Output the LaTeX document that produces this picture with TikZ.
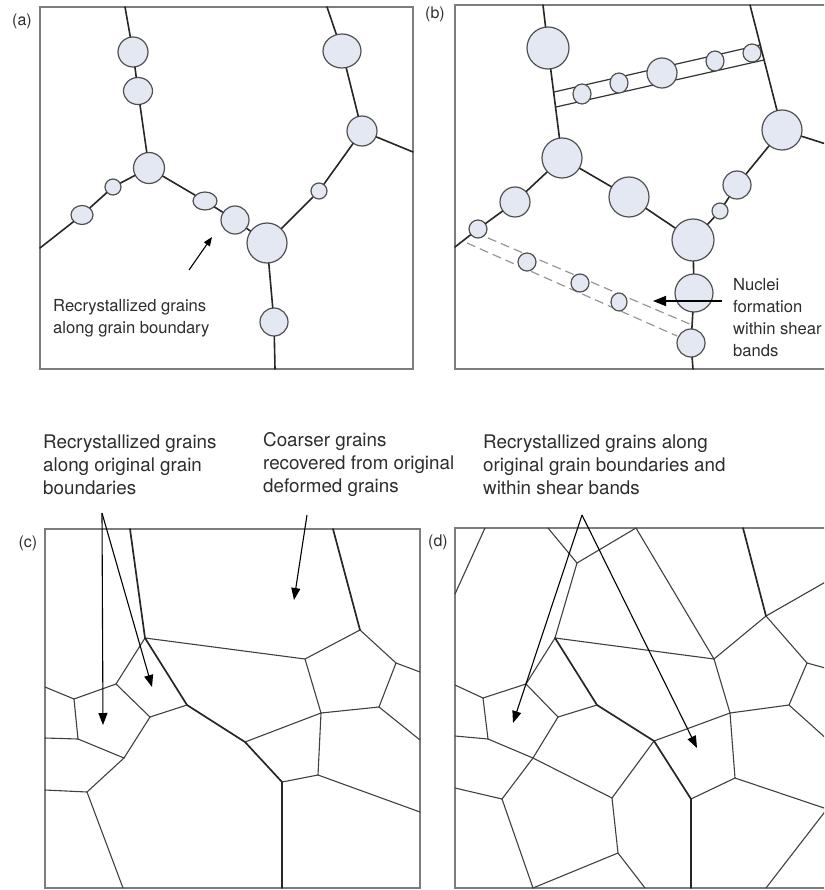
\documentclass[tikz,border=0pt]{standalone}
\usepackage{fontspec}
\setmainfont{TeX Gyre Heros}
\usepackage{tikz}
\usetikzlibrary{
    shapes.geometric, arrows.meta, positioning
}
\definecolor{colGrain}{RGB}{228, 232, 242}
\definecolor{colRim}{RGB}{80, 80, 80}
\definecolor{colFrame}{RGB}{125, 125, 125}
\definecolor{colBand}{RGB}{150, 150, 150}
\definecolor{colText}{RGB}{45, 45, 45}

\begin{document}
\begin{tikzpicture}[x=1pt, y=-1pt,
    every node/.style={text=colText},
    grain/.style={ellipse, draw=colRim, fill=colGrain, line width=1.2pt, inner sep=0pt},
    gb/.style={line width=1.6pt, black!85, line cap=round},
    cgb/.style={line width=1.1pt, black!75, line cap=round},
    cgbthick/.style={line width=1.7pt, black!85, line cap=round},
    panel/.style={draw=colFrame, line width=1.3pt},
    bandline/.style={line width=1.2pt, black!80},
    shearline/.style={line width=1.2pt, colBand, dash pattern=on 9pt off 5pt},
    ptr/.style={line width=1.1pt, -{Triangle[length=12pt, width=9pt]}},
    lbl/.style={align=left, inner sep=0pt, font=\fontsize{18.8}{23}\selectfont},
    note/.style={align=left, inner sep=0pt, font=\fontsize{16.6}{22}\selectfont},
    tag/.style={inner sep=0pt, font=\fontsize{16}{18}\selectfont}
]
    \useasboundingbox (0,0) rectangle (824,890);
    \clip (0,0) rectangle (824,890);

    % (a) grains along the old boundaries
    \draw[panel] (40,7) rectangle (413,369);
    \node[tag] (a-tag) at (22,21) {(a)};
    \foreach \n/\x/\y/\w/\h in {a1/133/52/30/30, a2/138/91/29/27, a3/149/168/31/31,
        a4/113/187/16/16, a5/82/215/22/19, a6/205/201/24/18, a7/235/220/28/28,
        a8/267/243/40/40, a9/274/322/28/28, a10/319/191/16/16, a11/362/131/30/30,
        a12/342/51/38/34}
        \node[grain, minimum width=\w pt, minimum height=\h pt] (\n) at (\x,\y) {};
    \coordinate (a-t1) at (125,7);
    \coordinate (a-t2) at (327,7);
    \coordinate (a-l) at (40,248);
    \coordinate (a-b) at (275,369);
    \coordinate (a-r) at (413,152);
    \draw[gb] (a-t1) -- (a1) -- (a2) -- (a3);
    \draw[gb] (a3) -- (a4) -- (a5) -- (a-l);
    \draw[gb] (a3) -- (a6) -- (a7) -- (a8) -- (a9) -- (a-b);
    \draw[gb] (a8) -- (a10) -- (a11) -- (a12) -- (a-t2);
    \draw[gb] (a11) -- (a-r);
    \coordinate (a-tail) at (189,270);
    \coordinate (a-tip) at (212,237);
    \draw[line width=1.1pt, -{Triangle[length=9pt, width=7pt]}] (a-tail) -- (a-tip);
    \node[note, anchor=west] (a-text) at (53,318) {Recrystallized grains\\along grain boundary};

    % (b) grains along boundaries + shear bands
    \draw[panel] (455,5) rectangle (829,369);
    \node[tag] (b-tag) at (435,14) {(b)};
    \draw[bandline] (554,92) -- (760,45);
    \draw[bandline] (556,107) -- (764,60);
    \draw[shearline] (488,238) -- (692,325);
    \draw[shearline] (467,243) -- (677,336);
    \foreach \n/\x/\y/\w/\h in {b1/548/48/42/42, b2/562/158/40/40, b3/515/202/30/30,
        b4/478/229/18/18, b5/629/197/40/40, b6/693/240/42/42, b7/720/211/16/16,
        b8/737/185/28/28, b9/782/130/40/40, b10/694/293/38/38, b11/691/343/28/28,
        s1/582/94/18/20, s2/619/83/18/20, s3/662/73/30/30, s4/715/61/18/20,
        s5/752/53/18/18, d1/527/262/18/18, d2/580/283/18/18, d3/619/302/16/18}
        \node[grain, minimum width=\w pt, minimum height=\h pt] (\n) at (\x,\y) {};
    \coordinate (b-t1) at (543,5);
    \coordinate (b-t2) at (750,5);
    \coordinate (b-l) at (455,247);
    \coordinate (b-b) at (693,369);
    \coordinate (b-r) at (829,145);
    \draw[gb] (b-t1) -- (b1) -- (b2);
    \draw[gb] (b2) -- (b3) -- (b4) -- (b-l);
    \draw[gb] (b2) -- (b5) -- (b6);
    \draw[gb] (b6) -- (b7) -- (b8) -- (b9) -- (b-t2);
    \draw[gb] (b9) -- (b-r);
    \draw[gb] (b6) -- (b10) -- (b11) -- (b-b);
    \coordinate (b-tail) at (722,301);
    \coordinate (b-tip) at (653,301);
    \draw[line width=1.6pt, -{Triangle[length=13pt, width=10pt]}] (b-tail) -- (b-tip);
    \node[note, anchor=west] (b-text) at (733,318) {Nuclei\\formation\\within shear\\bands};

    % labels over (c) and (d)
    \node[lbl, anchor=west] (c-lbl1) at (43,465) {Recrystallized grains\\along original grain\\boundaries};
    \node[lbl, anchor=west] (c-lbl2) at (263,465) {Coarser grains\\recovered from original\\deformed grains};
    \node[lbl, anchor=west] (d-lbl) at (483,465) {Recrystallized grains along\\original grain boundaries and\\within shear bands};

    % (c) after recrystallization
    \draw[panel] (45,529) rectangle (420,888);
    \node[tag] (c-tag) at (28,543) {(c)};
    \foreach \n/\x/\y in {c1/145/638, c2/305/659, c3/187/705, c4/116/684, c5/74/699,
        c6/78/739, c7/150/717, c8/124/758, c9/87/792, c10/245/742, c11/282/782,
        c12/321/713, c13/318/775, c14/360/630, c15/396/663, c16/379/707,
        ct1/130/529, ct2/333/529, cl1/45/687, cl2/45/738, cl3/45/790,
        cb1/123/888, cb2/282/888, cr1/420/672, cr2/420/740, cr3/420/812}
        \coordinate (\n) at (\x,\y);
    \foreach \u/\v in {c1/c2, c1/c4, c4/c5, c5/cl1, c5/c6, c6/cl2, c6/c8, c4/c7,
        c7/c3, c7/c8, c8/c9, c9/cl3, c9/cb1, c10/c12, c2/c12, c12/c13, c11/c13,
        c13/cr3, c12/c16, c2/c14, c14/c15, c15/cr1, c15/c16, c16/cr2}
        \draw[cgb] (\u) -- (\v);
    \foreach \u/\v in {ct1/c1, c1/c3, c3/c10, c10/c11, c11/cb2, c14/ct2}
        \draw[cgbthick] (\u) -- (\v);
    \coordinate (c-from1) at (102,513);
    \coordinate (c-to1) at (103,725);
    \coordinate (c-to2) at (152,687);
    \coordinate (c-from2) at (307,515);
    \coordinate (c-to3) at (294,600);
    \draw[ptr] (c-from1) -- (c-to1);
    \draw[ptr] (c-from1) -- (c-to2);
    \draw[ptr] (c-from2) -- (c-to3);

    % (d) recrystallized along boundaries and in the bands
    \draw[panel] (455,528) rectangle (829,888);
    \node[tag] (d-tag) at (438,542) {(d)};
    \foreach \n/\x/\y in {d1/577/563, d2/555/638, d3/597/705, d4/526/684, d5/483/698,
        d6/488/739, d7/558/717, d8/533/758, d9/502/799, d10/654/741, d11/691/799,
        d12/730/713, d13/735/778, d14/766/616, d15/807/663, d16/789/705,
        d17/612/798, d18/618/853, d19/714/659, d20/827/809,
        dt1/485/528, dt2/548/528, dt3/636/528, dt4/743/528,
        dl0/455/594, dl1/455/685, dl2/455/736, dl3/455/788,
        db1/533/888, db2/645/888, db3/691/888, db4/766/888,
        dr0/829/580, dr1/829/669, dr2/829/741}
        \coordinate (\n) at (\x,\y);
    \foreach \u/\v in {dt1/dl0, dt2/d1, d1/dt3, d1/d2, dt3/d19, d2/d19, d2/d4,
        d4/d5, d5/dl1, d5/d6, d6/dl2, d6/d8, d4/d7, d7/d3, d7/d8, d8/d9, d9/dl3,
        d9/db1, d8/d17, d17/d10, d17/d18, d18/db1, d18/db2, d10/d12, d19/d12,
        d12/d13, d11/d13, d13/d20, d20/db4, d12/d16, d16/dr2, d16/d15, d15/dr1,
        d15/d14, d14/dr0, d14/d19}
        \draw[cgb] (\u) -- (\v);
    \foreach \u/\v in {d2/d3, d3/d10, d10/d11, d11/db3, d14/dt4}
        \draw[cgbthick] (\u) -- (\v);
    \coordinate (d-from) at (582,515);
    \coordinate (d-to1) at (513,723);
    \coordinate (d-to2) at (697,748);
    \draw[ptr] (d-from) -- (d-to1);
    \draw[ptr] (d-from) -- (d-to2);
\end{tikzpicture}
\end{document}
